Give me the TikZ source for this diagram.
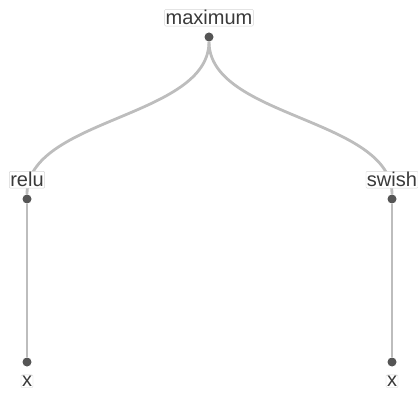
\documentclass[tikz,border=0pt]{standalone}
\usepackage{fontspec}
\setmainfont{Liberation Sans}
\usetikzlibrary{positioning}
\definecolor{dotgray}{HTML}{555555}
\definecolor{linkgray}{HTML}{BDBDBD}
\definecolor{textgray}{HTML}{3A3A3A}
\definecolor{tagborder}{HTML}{D6D6D6}
\tikzset{
  opdot/.style={
    circle,
    fill=dotgray,
    inner sep=0pt,
    minimum size=9pt
  },
  optag/.style={
    draw=tagborder,
    fill=white,
    text=textgray,
    rounded corners=1pt,
    inner sep=1pt,
    font=\fontsize{20}{22}\selectfont
  },
  oplink/.style={draw=linkgray, line width=2.8pt}
}

\begin{document}
\begin{tikzpicture}[x=1pt, y=-1pt]
  \useasboundingbox (0,0) rectangle (418,393);

  \node[opdot] (maxdot) at (209,37) {};
  \node[opdot] (reludot) at (27,199) {};
  \node[opdot] (swishdot) at (392,199) {};
  \node[opdot] (xleftdot) at (27,362) {};
  \node[opdot] (xrightdot) at (392,362) {};

  \draw[oplink] (maxdot) .. controls +(0,81) and +(0,-81) .. (reludot);
  \draw[oplink] (maxdot) .. controls +(0,81) and +(0,-81) .. (swishdot);
  \draw[oplink] (reludot) -- (xleftdot);
  \draw[oplink] (swishdot) -- (xrightdot);

  \node[optag, above=6pt of maxdot] (maxtag) {maximum};
  \node[optag, above=6pt of reludot] (relutag) {relu};
  \node[optag, above=6pt of swishdot] (swishtag) {swish};
  \node[optag, below=8pt of xleftdot] (xlefttag) {x};
  \node[optag, below=8pt of xrightdot] (xrighttag) {x};
\end{tikzpicture}
\end{document}
